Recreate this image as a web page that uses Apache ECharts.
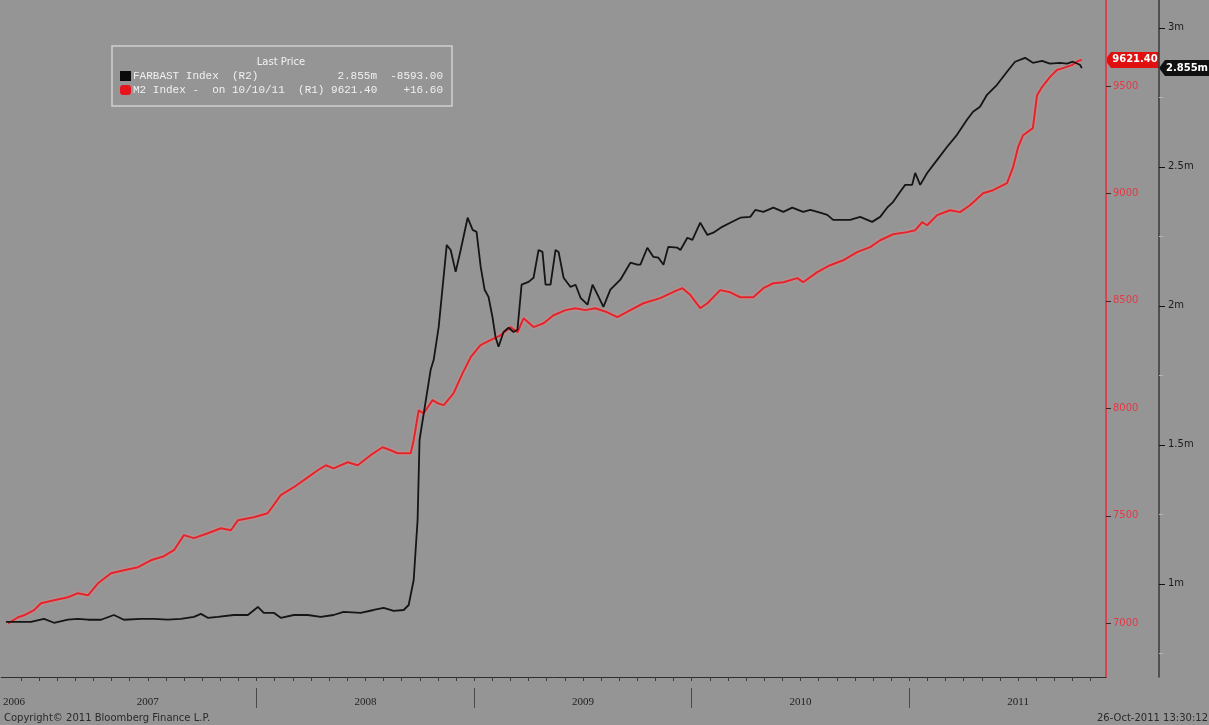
<!DOCTYPE html>
<html>
<head>
<meta charset="utf-8">
<script src="https://cdn.jsdelivr.net/npm/echarts@6/dist/echarts.min.js"></script>
<style>
html,body{margin:0;padding:0;background:#959595;}
#main{width:1209px;height:725px;}
</style>
</head>
<body>
<div id="main"></div>
<script>
// FARBAST Index (R2), millions -- dates as decimal years
var farDates = [2006.848, 2006.904, 2006.963, 2007.023, 2007.069, 2007.133, 2007.179, 2007.225, 2007.285, 2007.344,
    2007.390, 2007.468, 2007.528, 2007.592, 2007.652, 2007.712, 2007.744, 2007.776, 2007.822, 2007.895,
    2007.960, 2008.006, 2008.033, 2008.079, 2008.111, 2008.171, 2008.235, 2008.295, 2008.354, 2008.400,
    2008.478, 2008.538, 2008.584, 2008.630, 2008.676, 2008.699, 2008.722, 2008.740, 2008.749, 2008.800,
    2008.814, 2008.837, 2008.874, 2008.892, 2008.915, 2008.938, 2008.970, 2008.993, 2009.011, 2009.030,
    2009.048, 2009.066, 2009.084, 2009.098, 2009.112, 2009.135, 2009.158, 2009.181, 2009.199, 2009.218,
    2009.250, 2009.273, 2009.296, 2009.314, 2009.328, 2009.351, 2009.374, 2009.388, 2009.411, 2009.443,
    2009.466, 2009.489, 2009.521, 2009.544, 2009.567, 2009.594, 2009.626, 2009.672, 2009.718, 2009.750,
    2009.764, 2009.796, 2009.824, 2009.847, 2009.870, 2009.892, 2009.934, 2009.948, 2009.980, 2010.003,
    2010.039, 2010.072, 2010.099, 2010.140, 2010.177, 2010.223, 2010.269, 2010.292, 2010.329, 2010.375,
    2010.421, 2010.462, 2010.512, 2010.545, 2010.590, 2010.623, 2010.650, 2010.682, 2010.728, 2010.774,
    2010.829, 2010.866, 2010.898, 2010.926, 2010.958, 2010.981, 2011.013, 2011.027, 2011.050, 2011.082,
    2011.128, 2011.174, 2011.219, 2011.265, 2011.293, 2011.325, 2011.357, 2011.403, 2011.449, 2011.486,
    2011.532, 2011.568, 2011.610, 2011.646, 2011.692, 2011.725, 2011.752, 2011.784, 2011.793];
var farVals = [0.863, 0.863, 0.863, 0.874, 0.860, 0.871, 0.874, 0.871, 0.871, 0.888,
    0.871, 0.874, 0.874, 0.871, 0.874, 0.881, 0.892, 0.878, 0.881, 0.888,
    0.888, 0.917, 0.896, 0.896, 0.878, 0.888, 0.888, 0.881, 0.888, 0.899,
    0.896, 0.906, 0.914, 0.903, 0.906, 0.924, 1.014, 1.230, 1.518, 1.770,
    1.806, 1.924, 2.219, 2.201, 2.122, 2.201, 2.317, 2.273, 2.266, 2.140,
    2.058, 2.032, 1.960, 1.888, 1.853, 1.906, 1.921, 1.906, 1.914, 2.076,
    2.086, 2.101, 2.201, 2.194, 2.076, 2.076, 2.201, 2.194, 2.101, 2.068,
    2.076, 2.029, 2.004, 2.076, 2.040, 1.996, 2.058, 2.094, 2.155, 2.148,
    2.148, 2.209, 2.176, 2.173, 2.148, 2.212, 2.209, 2.201, 2.245, 2.237,
    2.299, 2.255, 2.263, 2.284, 2.299, 2.317, 2.320, 2.345, 2.338, 2.353,
    2.338, 2.353, 2.338, 2.345, 2.335, 2.327, 2.309, 2.309, 2.309, 2.320,
    2.302, 2.320, 2.353, 2.374, 2.410, 2.435, 2.435, 2.478, 2.435, 2.478,
    2.525, 2.572, 2.615, 2.669, 2.698, 2.716, 2.759, 2.795, 2.842, 2.878,
    2.892, 2.874, 2.881, 2.871, 2.874, 2.871, 2.878, 2.867, 2.855];

// M2 Index (R1), billions
var m2Dates = [2006.858, 2006.904, 2006.931, 2006.977, 2007.009, 2007.069, 2007.133, 2007.179, 2007.225, 2007.271,
    2007.331, 2007.390, 2007.455, 2007.514, 2007.574, 2007.620, 2007.666, 2007.712, 2007.776, 2007.836,
    2007.882, 2007.914, 2007.987, 2008.051, 2008.111, 2008.171, 2008.235, 2008.281, 2008.318, 2008.354,
    2008.419, 2008.465, 2008.524, 2008.579, 2008.616, 2008.648, 2008.708, 2008.722, 2008.745, 2008.768,
    2008.809, 2008.832, 2008.860, 2008.905, 2008.947, 2008.984, 2009.029, 2009.075, 2009.121, 2009.167,
    2009.199, 2009.227, 2009.273, 2009.319, 2009.365, 2009.420, 2009.466, 2009.511, 2009.557, 2009.612,
    2009.658, 2009.718, 2009.778, 2009.855, 2009.934, 2009.957, 2009.994, 2010.039, 2010.072, 2010.131,
    2010.177, 2010.223, 2010.283, 2010.329, 2010.375, 2010.421, 2010.485, 2010.512, 2010.577, 2010.636,
    2010.696, 2010.760, 2010.820, 2010.866, 2010.926, 2010.990, 2011.027, 2011.059, 2011.082, 2011.128,
    2011.187, 2011.233, 2011.279, 2011.339, 2011.385, 2011.449, 2011.477, 2011.500, 2011.523, 2011.568,
    2011.587, 2011.610, 2011.646, 2011.678, 2011.706, 2011.747, 2011.775, 2011.793];
var m2Vals = [7000, 7028, 7037, 7061, 7093, 7107, 7121, 7140, 7130, 7186,
    7233, 7247, 7261, 7293, 7312, 7340, 7410, 7396, 7419, 7442,
    7433, 7479, 7493, 7512, 7596, 7633, 7679, 7712, 7735, 7721,
    7749, 7735, 7782, 7819, 7805, 7791, 7791, 7852, 7991, 7977,
    8038, 8024, 8015, 8070, 8164, 8238, 8294, 8317, 8340, 8378,
    8354, 8419, 8378, 8396, 8433, 8457, 8466, 8457, 8466, 8447,
    8424, 8457, 8489, 8513, 8550, 8559, 8527, 8466, 8489, 8550,
    8540, 8517, 8517, 8559, 8582, 8587, 8606, 8587, 8634, 8666,
    8689, 8727, 8750, 8782, 8810, 8820, 8829, 8866, 8852, 8899,
    8922, 8913, 8945, 9001, 9015, 9048, 9122, 9215, 9271, 9304,
    9457, 9495, 9541, 9574, 9583, 9597, 9616, 9621.40];

// axis labels
var yearLabels = ['2006', '2007', '2008', '2009', '2010', '2011'];
var yearLabelPos = [2006.885, 2007.5, 2008.5, 2009.5, 2010.5, 2011.5];
var yearBounds = [2008, 2009, 2010, 2011];
var m2Ticks = [7000, 7500, 8000, 8500, 9000, 9500];
var farTicks = [1, 1.5, 2, 2.5, 3];
var farMinor = [0.75, 1.25, 1.75, 2.25, 2.75];

var farLast = 2.855, m2Last = 9621.40;

// month ticks along the bottom
var monthTicks = [];
for (var k = 0; k < 62; k++) {
    monthTicks.push(2006 + 11 / 12 + k / 12);
}

function pairs(xs, ys) {
    var out = [];
    for (var i = 0; i < xs.length; i++) {
        out.push([xs[i], ys[i]]);
    }
    return out;
}

var myChart = echarts.init(document.getElementById('main'));
var option = {
    backgroundColor: '#959595',
    animation: false,
    textStyle: {fontFamily: 'DejaVu Sans'},
    grid: {left: 0, right: 103, top: 0, bottom: 48, containLabel: false},
    xAxis: [
        {
            type: 'value', min: 2006.826, max: 2011.904,
            axisLine: {lineStyle: {color: '#2e2e2e', width: 1}},
            axisTick: {customValues: monthTicks, length: 4, lineStyle: {color: '#3a3a3a'}},
            axisLabel: {show: false},
            splitLine: {show: false}
        },
        {
            type: 'value', min: 2006.826, max: 2011.904, position: 'bottom', offset: 11,
            axisLine: {show: false},
            axisTick: {customValues: yearBounds, length: 20, lineStyle: {color: '#4a4a4a'}},
            axisLabel: {
                customValues: yearLabelPos, margin: 9, color: '#222',
                fontSize: 11, fontFamily: 'Liberation Serif',
                formatter: function (v) {
                    for (var i = 0; i < yearLabelPos.length; i++) {
                        if (Math.abs(v - yearLabelPos[i]) < 0.01) return yearLabels[i];
                    }
                    return '';
                }
            },
            splitLine: {show: false}
        }
    ],
    yAxis: [
        {
            type: 'value', position: 'right', min: 6750, max: 9900,
            axisLine: {show: true, lineStyle: {color: '#d8434f', width: 2}},
            axisTick: {customValues: m2Ticks, length: 5, lineStyle: {color: '#4a2020'}},
            axisLabel: {
                customValues: m2Ticks, color: '#e23a46', fontSize: 10, margin: 7,
                formatter: function (v) { return String(v); }
            },
            splitLine: {show: false}
        },
        {
            type: 'value', position: 'right', offset: 53, min: 0.665, max: 3.10,
            axisLine: {show: true, lineStyle: {color: '#3a3a3a', width: 1.5}},
            axisTick: {customValues: farTicks, length: 6, lineStyle: {color: '#111'}},
            axisLabel: {
                customValues: farTicks, color: '#1c1c1c', fontSize: 10, margin: 9,
                formatter: function (v) { return v + 'm'; }
            },
            splitLine: {show: false}
        },
        {
            type: 'value', position: 'right', offset: 53, min: 0.665, max: 3.10,
            axisLine: {show: false},
            axisTick: {customValues: farMinor, length: 4, lineStyle: {color: '#b5b5b5'}},
            axisLabel: {show: false},
            splitLine: {show: false}
        }
    ],
    series: [
        {
            name: 'M2 Index', type: 'line', xAxisIndex: 0, yAxisIndex: 0,
            data: pairs(m2Dates, m2Vals), showSymbol: false,
            lineStyle: {color: '#e3242b', width: 2, shadowColor: 'rgba(255,140,140,0.8)', shadowBlur: 3}
        },
        {
            name: 'FARBAST Index', type: 'line', xAxisIndex: 0, yAxisIndex: 1,
            data: pairs(farDates, farVals), showSymbol: false,
            lineStyle: {color: '#151515', width: 1.8}
        }
    ],
    graphic: [
        {type: 'rect', shape: {x: 112, y: 46, width: 340, height: 60},
            style: {fill: 'rgba(0,0,0,0)', stroke: '#d0d0d0', lineWidth: 1.5}},
        {type: 'text', x: 281, y: 62, style: {text: 'Last Price', fill: '#f2f2f2', font: '10px DejaVu Sans', align: 'center', verticalAlign: 'middle'}},
        {type: 'rect', shape: {x: 120, y: 71, width: 11, height: 10}, style: {fill: '#0a0a0a'}},
        {type: 'text', x: 133, y: 76, style: {text: 'FARBAST Index  (R2)', fill: '#f0f0f0', font: '11px Liberation Mono', verticalAlign: 'middle'}},
        {type: 'text', x: 443, y: 76, style: {text: '2.855m  -8593.00', fill: '#f0f0f0', font: '11px Liberation Mono', align: 'right', verticalAlign: 'middle'}},
        {type: 'rect', shape: {x: 120, y: 85, width: 11, height: 10, r: 3}, style: {fill: '#e8141c'}},
        {type: 'text', x: 133, y: 90, style: {text: 'M2 Index -  on 10/10/11  (R1) 9621.40', fill: '#f0f0f0', font: '11px Liberation Mono', verticalAlign: 'middle'}},
        {type: 'text', x: 443, y: 90, style: {text: '+16.60', fill: '#f0f0f0', font: '11px Liberation Mono', align: 'right', verticalAlign: 'middle'}},
        {type: 'text', x: 4, y: 718, style: {text: 'Copyright\u00a9 2011 Bloomberg Finance L.P.', fill: '#2a2a2a', font: '10px DejaVu Sans', verticalAlign: 'middle'}},
        {type: 'text', x: 1208, y: 718, style: {text: '26-Oct-2011 13:30:12', fill: '#2a2a2a', font: '10px DejaVu Sans', align: 'right', verticalAlign: 'middle'}}
    ]
};
myChart.setOption(option);

// last-price tags on the two right axes
var yr = myChart.convertToPixel({yAxisIndex: 0}, m2Last);
var yb = myChart.convertToPixel({yAxisIndex: 1}, farLast);
myChart.setOption({
    graphic: [
        {type: 'polygon', id: 'tagR', shape: {points: [[1105, yr], [1111, yr - 8], [1159, yr - 8], [1159, yr + 8], [1111, yr + 8]]}, style: {fill: '#e01010'}},
        {type: 'text', id: 'tagRt', x: 1135, y: yr, style: {text: '9621.40', fill: '#fff', font: 'bold 10px DejaVu Sans', align: 'center', verticalAlign: 'middle'}},
        {type: 'polygon', id: 'tagB', shape: {points: [[1159, yb], [1165, yb - 8], [1209, yb - 8], [1209, yb + 8], [1165, yb + 8]]}, style: {fill: '#101010'}},
        {type: 'text', id: 'tagBt', x: 1187, y: yb, style: {text: '2.855m', fill: '#fff', font: 'bold 10px DejaVu Sans', align: 'center', verticalAlign: 'middle'}}
    ]
});
window.onresize = myChart.resize;
</script>
</body>
</html>
